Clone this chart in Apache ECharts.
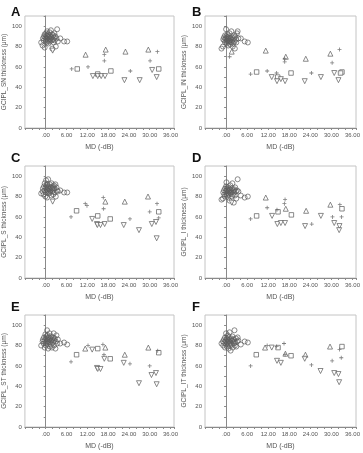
<!DOCTYPE html>
<html>
<head>
<meta charset="utf-8">
<script src="https://cdn.jsdelivr.net/npm/echarts@6/dist/echarts.min.js"></script>
<style>
  html, body { margin: 0; padding: 0; background: #fff; }
  #chart { width: 363px; height: 453px; }
</style>
</head>
<body>
<div id="chart"></div>
<script>
// MD (-dB) of the normal subjects, shared by every panel
const normMD = [-1.3, -0.9, -0.8, -0.6, -0.5, -0.3, -0.3, -0.1, 0.0, 0.1,
  0.1, 0.2, 0.3, 0.4, 0.4, 0.5, 0.6, 0.7, 0.8, 0.8,
  0.9, 1.0, 1.1, 1.2, 1.2, 1.3, 1.5, 1.6, 1.7, 1.8,
  1.9, 2.1, 2.2, 2.3, 2.4, 2.5, 2.6, 2.8, 2.9, 3.1,
  3.3, 3.5, 4.2, 5.3, 6.2];

// GCIPL thickness of the normal subjects, one list per sector
const normSN = [84, 81, 88, 86, 90, 92, 79, 89, 87, 93, 85, 91, 88, 95, 84, 90, 86, 92, 89, 83,
  91, 87, 94, 88, 85, 90, 96, 89, 86, 92, 78, 87, 91, 84, 89, 93, 86, 90, 80, 88, 97, 85, 88, 85, 85];
const normIN = [78, 80, 87, 89, 86, 91, 84, 88, 97, 85, 90, 83, 87, 92, 86, 89, 81, 88, 84, 90,
  86, 93, 85, 82, 88, 87, 95, 84, 89, 86, 80, 83, 88, 91, 85, 78, 90, 87, 84, 93, 95, 88, 88, 85, 84];
const normS = [83, 85, 88, 82, 90, 86, 93, 80, 89, 96, 84, 91, 87, 79, 92, 86, 89, 97, 85, 88,
  83, 90, 87, 84, 92, 86, 89, 81, 93, 88, 85, 90, 82, 87, 91, 88, 84, 92, 80, 89, 86, 85, 86, 84, 84];
const normI = [77, 78, 84, 86, 82, 88, 80, 85, 90, 83, 94, 87, 81, 86, 84, 89, 79, 85, 88, 82,
  86, 76, 84, 87, 91, 83, 85, 80, 88, 93, 82, 86, 74, 84, 87, 81, 89, 85, 78, 86, 97, 85, 81, 79, 80];
const normST = [80, 84, 86, 82, 88, 78, 85, 91, 83, 87, 80, 89, 84, 95, 86, 82, 90, 77, 85, 88,
  83, 86, 92, 79, 84, 87, 81, 89, 85, 78, 86, 83, 88, 92, 80, 85, 87, 77, 84, 90, 82, 86, 82, 83, 81];
const normIT = [82, 84, 80, 86, 83, 88, 78, 85, 92, 84, 81, 87, 79, 86, 83, 90, 85, 77, 88, 82,
  84, 93, 80, 86, 83, 75, 87, 81, 85, 89, 78, 84, 86, 82, 95, 80, 83, 87, 79, 84, 88, 85, 81, 84, 83];

// patients: [MD, thickness, group]  sq = square, up = triangle, dn = inverted triangle, pl = cross
const patSN = [[7.5, 58, 'pl'], [9.1, 58, 'sq'], [11.5, 72, 'up'], [12.2, 60, 'pl'], [13.6, 51, 'dn'],
  [15.0, 53, 'sq'], [15.0, 51, 'dn'], [16.0, 51, 'dn'], [17.1, 51, 'dn'], [17.3, 77, 'up'],
  [16.9, 72, 'pl'], [16.9, 66, 'pl'], [18.8, 56, 'sq'], [22.7, 47, 'dn'], [23.0, 75, 'up'],
  [24.4, 56, 'pl'], [27.1, 47, 'dn'], [29.6, 77, 'up'], [30.1, 66, 'pl'], [30.7, 57, 'dn'],
  [32.2, 75, 'pl'], [32.6, 58, 'sq'], [32.0, 50, 'dn'], [2.0, 76, 'dn']];
const patIN = [[7.0, 53, 'pl'], [8.7, 55, 'sq'], [11.3, 76, 'up'], [11.7, 56, 'pl'], [13.0, 50, 'dn'],
  [14.4, 54, 'pl'], [14.7, 50, 'sq'], [14.5, 46, 'dn'], [15.6, 48, 'dn'], [17.0, 70, 'up'],
  [16.7, 68, 'pl'], [16.7, 65, 'pl'], [16.8, 46, 'dn'], [18.5, 54, 'sq'], [22.7, 68, 'up'],
  [22.4, 46, 'dn'], [24.3, 54, 'pl'], [27.0, 50, 'dn'], [29.7, 73, 'up'], [30.2, 64, 'pl'],
  [30.8, 54, 'dn'], [32.3, 77, 'pl'], [32.0, 47, 'dn'], [33.0, 55, 'sq'], [32.6, 54, 'sq'],
  [1.6, 75, 'up'], [1.0, 70, 'pl']];
const patS = [[7.3, 60, 'pl'], [8.9, 66, 'sq'], [11.4, 73, 'pl'], [11.9, 71, 'pl'], [13.4, 58, 'dn'],
  [15.0, 61, 'sq'], [14.8, 53, 'dn'], [14.9, 52, 'dn'], [15.8, 52, 'dn'], [16.6, 79, 'pl'],
  [17.2, 75, 'up'], [16.7, 68, 'pl'], [17.0, 53, 'dn'], [18.6, 58, 'sq'], [22.8, 75, 'up'],
  [22.5, 52, 'dn'], [24.3, 58, 'pl'], [26.9, 47, 'dn'], [29.5, 80, 'up'], [30.0, 65, 'pl'],
  [30.6, 53, 'dn'], [32.1, 73, 'pl'], [31.8, 55, 'dn'], [32.6, 65, 'sq'], [32.6, 59, 'pl'],
  [32.0, 39, 'dn'], [2.0, 75, 'dn']];
const patI = [[7.0, 58, 'pl'], [8.7, 61, 'sq'], [11.3, 79, 'up'], [11.7, 69, 'pl'], [13.1, 61, 'dn'],
  [14.5, 67, 'pl'], [14.8, 65, 'sq'], [14.6, 53, 'dn'], [15.6, 54, 'dn'], [16.8, 77, 'pl'],
  [16.6, 73, 'pl'], [17.0, 68, 'up'], [16.8, 54, 'dn'], [18.6, 62, 'sq'], [22.8, 66, 'up'],
  [22.5, 51, 'dn'], [24.4, 53, 'pl'], [27.0, 61, 'dn'], [29.7, 72, 'up'], [30.3, 60, 'pl'],
  [30.8, 54, 'dn'], [32.4, 72, 'pl'], [32.3, 51, 'dn'], [32.2, 47, 'dn'], [33.0, 68, 'sq'],
  [32.9, 60, 'pl'], [1.6, 74, 'dn']];
const patST = [[7.3, 64, 'pl'], [8.9, 71, 'sq'], [11.4, 77, 'up'], [12.2, 80, 'pl'], [13.4, 76, 'dn'],
  [15.0, 77, 'sq'], [14.8, 58, 'dn'], [15.0, 57, 'dn'], [15.8, 57, 'dn'], [16.5, 81, 'pl'],
  [17.2, 78, 'up'], [16.8, 71, 'pl'], [16.9, 67, 'dn'], [18.6, 67, 'sq'], [22.8, 71, 'up'],
  [22.5, 63, 'dn'], [24.3, 62, 'pl'], [26.9, 43, 'dn'], [29.6, 78, 'up'], [30.0, 60, 'pl'],
  [30.5, 51, 'dn'], [31.8, 53, 'dn'], [32.0, 42, 'dn'], [32.3, 75, 'pl'], [32.6, 73, 'sq']];
const patIT = [[7.0, 60, 'pl'], [8.6, 71, 'sq'], [11.1, 78, 'up'], [11.7, 80, 'pl'], [13.0, 78, 'dn'],
  [14.4, 79, 'pl'], [14.8, 78, 'sq'], [14.5, 65, 'dn'], [15.6, 63, 'dn'], [16.5, 82, 'pl'],
  [16.9, 72, 'up'], [16.8, 71, 'pl'], [18.5, 70, 'sq'], [22.6, 71, 'up'], [22.4, 67, 'dn'],
  [24.3, 61, 'pl'], [26.9, 55, 'dn'], [29.6, 79, 'up'], [30.2, 65, 'pl'], [30.8, 53, 'dn'],
  [32.3, 76, 'pl'], [32.0, 52, 'dn'], [32.2, 44, 'dn'], [33.0, 79, 'sq'], [32.8, 68, 'pl']];

const xTicks = [0, 6, 12, 18, 24, 30, 36];
const yTicks = [0, 20, 40, 60, 80, 100];

const panels = [
  { letter: 'A', name: 'GCIPL_SN thickness (\u03bcm)', norm: normSN, pat: patSN },
  { letter: 'B', name: 'GCIPL_IN thickness (\u03bcm)', norm: normIN, pat: patIN },
  { letter: 'C', name: 'GCIPL_S thickness (\u03bcm)', norm: normS, pat: patS },
  { letter: 'D', name: 'GCIPL_I thickness (\u03bcm)', norm: normI, pat: patI },
  { letter: 'E', name: 'GCIPL_ST thickness (\u03bcm)', norm: normST, pat: patST },
  { letter: 'F', name: 'GCIPL_IT thickness (\u03bcm)', norm: normIT, pat: patIT }
];

const lefts = [22, 205];
const tops = [16, 166, 315];
const gridW = 152, gridH = 112;
const letterTops = [6, 152, 301];
const letterLefts = [11, 192];

const MARK = '#5e5e5e';
const TEXT = '#555';
const shapes = {
  sq: { symbol: 'rect', size: 4.5, rotate: 0, open: true },
  up: { symbol: 'triangle', size: 5, rotate: 0, open: true },
  dn: { symbol: 'triangle', size: 5, rotate: 180, open: true },
  pl: { symbol: 'path://M2,0H3V2H5V3H3V5H2V3H0V2H2Z', size: 4, rotate: 0, open: false }
};

const grid = [], xAxis = [], yAxis = [], series = [], graphic = [];

panels.forEach((p, i) => {
  const col = i % 2, row = Math.floor(i / 2);
  grid.push({
    left: lefts[col], top: tops[row], width: gridW, height: gridH,
    show: true, borderColor: '#c4c4c4', borderWidth: 1
  });
  xAxis.push({
    gridIndex: i, type: 'value', min: -6, max: 37, interval: 6,
    name: 'MD (-dB)', nameLocation: 'middle', nameGap: 16,
    nameTextStyle: { fontSize: 7, color: TEXT, fontFamily: 'Liberation Sans' },
    axisLine: { show: true, onZero: false, lineStyle: { color: '#8a8a8a', width: 1 } },
    axisTick: { show: true, length: 2, lineStyle: { color: '#8a8a8a' } },
    minorTick: { show: true, splitNumber: 3, length: 2, lineStyle: { color: '#8a8a8a' } },
    splitLine: { show: false },
    axisLabel: {
      fontSize: 6, color: TEXT, margin: 4, fontFamily: 'Liberation Sans',
      showMinLabel: false, showMaxLabel: false,
      formatter: v => xTicks.indexOf(v) < 0 ? '' : (v === 0 ? '.00' : v.toFixed(2))
    }
  });
  yAxis.push({
    gridIndex: i, type: 'value', min: 0, max: 110, interval: 20,
    name: p.name, nameLocation: 'middle', nameGap: 11, nameRotate: 90,
    nameTextStyle: { fontSize: 6.5, color: TEXT, fontFamily: 'Liberation Sans' },
    axisLine: { show: true, lineStyle: { color: '#8a8a8a', width: 1 } },
    axisTick: { show: true, length: 2, lineStyle: { color: '#8a8a8a' } },
    minorTick: { show: true, splitNumber: 2, length: 2, lineStyle: { color: '#8a8a8a' } },
    splitLine: { show: false },
    axisLabel: {
      fontSize: 6, color: TEXT, margin: 3, fontFamily: 'Liberation Sans',
      showMaxLabel: false,
      formatter: v => yTicks.indexOf(v) < 0 ? '' : String(v)
    }
  });
  series.push({
    type: 'scatter', xAxisIndex: i, yAxisIndex: i,
    data: normMD.map((x, k) => [x, p.norm[k]]),
    symbol: 'circle', symbolSize: 5,
    itemStyle: { color: 'rgba(255,255,255,0)', borderColor: MARK, borderWidth: 0.9 }
  });
  Object.keys(shapes).forEach(key => {
    const s = shapes[key];
    series.push({
      type: 'scatter', xAxisIndex: i, yAxisIndex: i,
      data: p.pat.filter(d => d[2] === key).map(d => [d[0], d[1]]),
      symbol: s.symbol, symbolSize: s.size, symbolRotate: s.rotate,
      itemStyle: s.open
        ? { color: '#fff', borderColor: MARK, borderWidth: 0.9 }
        : { color: MARK, borderWidth: 0 }
    });
  });
  graphic.push({
    type: 'text', left: letterLefts[col], top: letterTops[row],
    style: { text: p.letter, fontSize: 13, fontWeight: 'bold', fill: '#111', fontFamily: 'Liberation Sans' }
  });
});

const chart = echarts.init(document.getElementById('chart'), null, { renderer: 'canvas' });
chart.setOption({ animation: false, grid, xAxis, yAxis, series, graphic });
</script>
</body>
</html>
